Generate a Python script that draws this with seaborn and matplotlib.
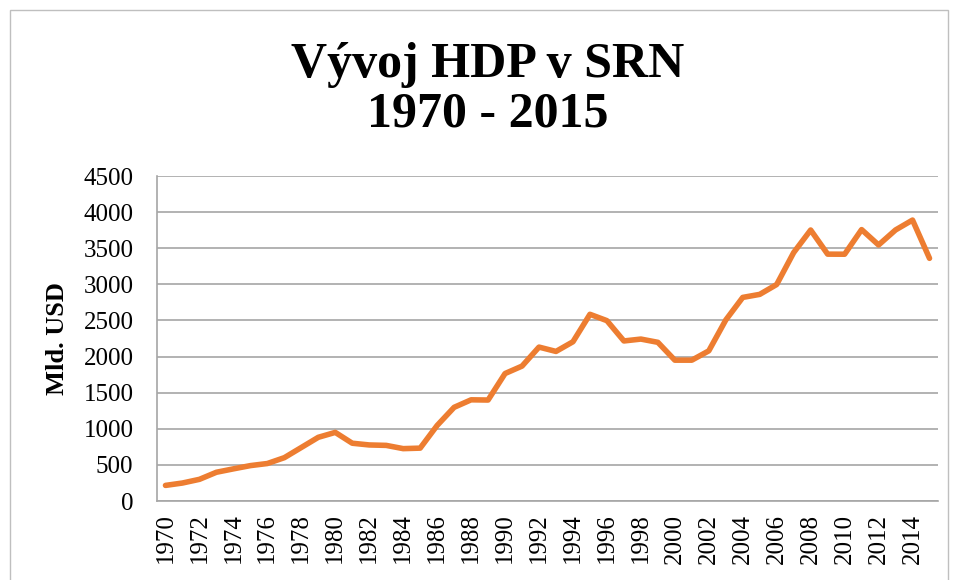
import pandas as pd
import matplotlib.pyplot as plt
import seaborn as sns
from matplotlib.patches import Rectangle

# -----------------------------
# Data (Mld. USD)
# -----------------------------
years = list(range(1970, 2016))
gdp = [216, 249, 300, 398, 445, 490, 519, 600, 741, 882,
       950, 800, 776, 770, 725, 732, 1046, 1297, 1401, 1398,
       1765, 1868, 2131, 2071, 2205, 2585, 2497, 2216, 2242, 2197,
       1950, 1950, 2079, 2506, 2819, 2861, 2998, 3440, 3752, 3418,
       3417, 3758, 3545, 3753, 3890, 3360]
y_ticks = [0, 500, 1000, 1500, 2000, 2500, 3000, 3500, 4000, 4500]
x_ticks = years[::2]

title = "Vývoj HDP v SRN\n1970 - 2015"
y_label = "Mld. USD"

df = pd.DataFrame({"rok": years, "hdp": gdp})

# -----------------------------
# Plot
# -----------------------------
sns.set_style("white")
plt.rcParams["font.family"] = ["Liberation Serif", "DejaVu Serif"]
plt.rcParams["text.color"] = "black"
plt.rcParams["axes.labelcolor"] = "black"
plt.rcParams["xtick.color"] = "black"
plt.rcParams["ytick.color"] = "black"

fig = plt.figure(figsize=(9.56, 5.8), dpi=100)
ax = fig.add_axes([157 / 956, 1 - 501 / 580, 781 / 956, 325 / 580])

# outer chart border
fig.patches.append(Rectangle((10 / 956, -0.1), 938 / 956, 1.1 - 10 / 580,
                             transform=fig.transFigure, fill=False,
                             edgecolor="#bfbfbf", linewidth=1.0))

sns.lineplot(data=df, x="rok", y="hdp", ax=ax, color="#ED7D31", linewidth=4.0)

ax.set_xlim(1969.5, 2015.5)
ax.set_ylim(0, 4500)
ax.set_yticks(y_ticks)
ax.set_xticks(x_ticks)
ax.set_xticklabels([str(x) for x in x_ticks], rotation=90)
ax.grid(axis="y", color="#a6a6a6", linewidth=1.2)
ax.set_axisbelow(True)

for side in ["top", "right"]:
    ax.spines[side].set_visible(False)
for side in ["left", "bottom"]:
    ax.spines[side].set_color("#a6a6a6")
    ax.spines[side].set_linewidth(1.2)

ax.tick_params(axis="y", length=0, pad=17, labelsize=18)
ax.tick_params(axis="x", length=0, pad=9, labelsize=18)

ax.set_xlabel("")
ax.set_ylabel(y_label, fontsize=19, fontweight="bold")
ax.yaxis.set_label_coords(-0.113, 0.5)

fig.text(0.51, 1 - 90 / 580, title, ha="center", va="center",
         fontsize=36, fontweight="bold", linespacing=1.1)

fig.savefig("out.png", dpi=100)
